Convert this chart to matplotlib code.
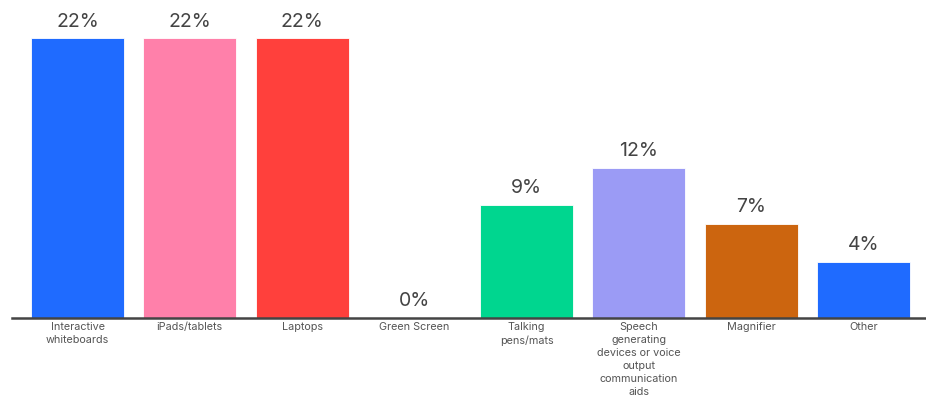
import matplotlib
matplotlib.use("Agg")
import matplotlib.pyplot as plt

plt.rcParams['font.family'] = ['Inter', 'DejaVu Sans']

categories = [
    "Interactive\nwhiteboards",
    "iPads/tablets",
    "Laptops",
    "Green Screen",
    "Talking\npens/mats",
    "Speech\ngenerating\ndevices or voice\noutput\ncommunication\naids",
    "Magnifier",
    "Other",
]
values = [22.0, 22.0, 22.0, 0.0, 8.9, 11.8, 7.4, 4.4]
colors = ["#1f6bff", "#ff80aa", "#ff403c", "#00d68f", "#00d68f", "#9b9bf5", "#cc650f", "#1f6bff"]

fig = plt.figure(figsize=(9.26, 3.96), dpi=100)
ax = fig.add_axes([12 / 926, 78 / 396, 914 / 926, 318 / 396])

x = list(range(len(categories)))
ax.bar(x, values, width=0.83, color=colors, edgecolor="white", linewidth=0.6)

# value labels above each bar
for xi, v in zip(x, values):
    ax.text(xi, v + 0.6, f"{v:.0f}%", ha="center", va="bottom",
            fontsize=14, color="#444444")

ax.set_xlim(-0.585, 7.558)
ax.set_ylim(0, 25)
ax.set_xticks(x)
ax.set_xticklabels(categories, fontsize=7.8, color="#555555", linespacing=1.38, va="top")
ax.tick_params(axis="x", length=0, pad=3)
ax.set_yticks([])
for s in ["top", "right", "left"]:
    ax.spines[s].set_visible(False)
ax.spines["bottom"].set_color("#444444")
ax.spines["bottom"].set_linewidth(1.8)

fig.savefig("out.png", dpi=100)
